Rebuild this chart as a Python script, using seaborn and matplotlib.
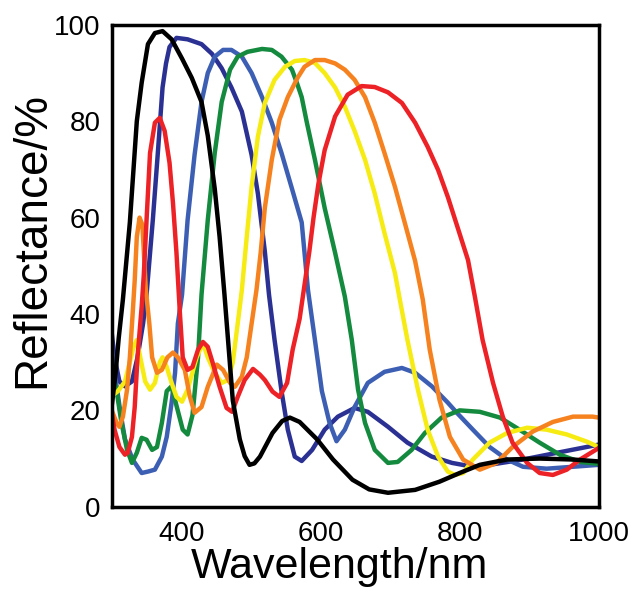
import numpy as np
import pandas as pd
import matplotlib
matplotlib.use('Agg')
import matplotlib.pyplot as plt
import seaborn as sns

# Reflectance spectra (wavelength in nm, reflectance in %)
black_wl = [300, 305, 310, 316, 326, 336, 343, 352, 362, 373, 386, 401, 415, 429, 438, 448, 455, 462,
            468, 474, 484, 491, 498, 505, 513, 531, 545, 556, 570, 595, 618, 646, 670, 697, 736, 771, 800,
            829, 868, 915, 963, 1000]
black_r = [21, 27, 35, 43, 59, 80, 88, 96, 98.3, 98.7, 97, 93, 89, 84, 77, 66, 56, 44,
           33, 22, 14, 10.5, 8.7, 9.0, 10.4, 15.3, 17.8, 18.5, 17.6, 14, 9.8, 5.6, 3.6, 2.9, 3.5, 5.2, 7,
           8.7, 9.8, 10, 9.8, 9.4]

navy_wl = [300, 304, 311, 319, 329, 337, 345, 350, 359, 366, 373, 378, 383, 393, 409, 429, 444, 458, 472,
           487, 501, 510, 520, 526, 534, 544, 553, 563, 573, 588, 606, 625, 649, 668, 697, 725, 760,
           789, 819, 843, 891, 940, 1000]
navy_r = [36, 31, 26, 25, 26, 31, 38, 44, 59.5, 73, 87, 92, 95.4, 97.3, 97, 96, 94, 91, 87,
          82, 73, 65, 53, 44, 34.6, 24, 16, 10.4, 9.5, 11.8, 16, 18.7, 20.5, 19.7, 16.6, 13.3, 10.4,
          9.1, 8.3, 8.7, 9.8, 11.2, 12.9]

blue_wl = [300, 306, 312, 319, 330, 343, 352, 362, 372, 379, 386, 391, 395, 401, 409, 419, 429, 438,
           448, 460, 472, 487, 501, 516, 530, 544, 559, 573, 582, 592, 602, 613, 623, 635, 649, 668,
           692, 717, 736, 760, 783, 796, 819, 843, 868, 891, 925, 963, 1000]
blue_r = [33, 26, 20, 14, 9.8, 7, 7.3, 7.7, 10.4, 14.5, 21.6, 27.8, 38, 44, 59.5, 73, 84, 90,
          93.4, 94.8, 94.8, 93.4, 90, 85, 79.7, 73.4, 66, 59, 45, 34.6, 24, 17.4, 13.6, 16, 20.7, 25.7,
          28, 28.8, 27.8, 25, 21.6, 19.5, 16, 12.4, 9.8, 8.3, 7.9, 8.3, 8.7]

green_wl = [300, 307, 314, 322, 329, 336, 343, 350, 358, 365, 372, 379, 386, 393, 402, 409, 416, 424,
            429, 438, 448, 458, 470, 481, 495, 516, 530, 544, 559, 566, 573, 580, 592, 606, 621, 635,
            645, 654, 664, 678, 697, 711, 731, 750, 774, 800, 829, 858, 886, 915, 944, 973, 1000]
green_r = [28, 24, 17.4, 11.8, 9.1, 11.2, 14.3, 13.9, 11.8, 12.4, 17.4, 24, 25, 21, 16, 15, 19, 31,
           44, 59.5, 73.4, 84, 90.7, 93.4, 94.4, 95, 94.8, 93.4, 90.7, 88, 85, 80, 72, 62, 52.7, 43.6,
           34.6, 24.3, 17.4, 11.8, 9.1, 9.3, 11.8, 15.3, 18.5, 20, 19.7, 18.5, 16, 13.3, 10.8, 9.3, 8.9]

yellow_wl = [300, 309, 319, 326, 331, 336, 341, 348, 355, 362, 369, 373, 379, 386, 393, 401, 409, 422,
             431, 438, 448, 458, 467, 474, 481, 487, 494, 501, 510, 520, 534, 549, 563, 577, 592, 606,
             621, 635, 649, 664, 678, 692, 707, 714, 725, 740, 754, 769, 783, 793, 805, 819, 843, 868,
             897, 925, 954, 983, 1000]
yellow_r = [23, 24, 26, 30, 33, 34.6, 31, 26, 24.3, 25.7, 30, 31, 29, 25.7, 22.8, 21.8, 24.3, 31,
            34, 31, 27.8, 25.7, 26.3, 30, 38, 45, 56, 66.4, 76.8, 83.8, 88.6, 91.3, 92.5, 92.7, 92.1, 90,
            87, 83, 78, 72, 65, 56.8, 48.5, 43, 34.6, 24.3, 16, 10.4, 7.3, 6.6, 7, 9.8, 13.3, 15.3,
            16.4, 16, 15, 13.5, 12.4]

orange_wl = [300, 307, 311, 316, 322, 326, 330, 333, 336, 340, 344, 349, 354, 358, 365, 372, 380, 388,
             395, 405, 412, 419, 429, 438, 451, 460, 470, 477, 487, 494, 501, 508, 514, 520, 530, 541,
             553, 567, 577, 592, 606, 621, 635, 649, 664, 678, 692, 707, 721, 736, 747, 757, 771, 786,
             805, 829, 853, 876, 905, 934, 963, 991, 1000]
orange_r = [20, 17.4, 16.6, 18.7, 24.3, 31, 40, 47, 56, 60, 58.5, 45, 38, 31, 27.8, 28.4, 31, 32,
            31, 28.4, 23, 19.5, 20.7, 24.9, 29.5, 28.4, 25.7, 24.9, 27, 31, 38, 45, 52.7, 62, 72, 80.3,
            85, 89, 91.3, 92.7, 92.7, 92, 90.7, 88.6, 85, 79.7, 73.4, 66.4, 59, 51, 43, 32.6, 22.2, 14.5,
            9.8, 7.7, 9.1, 12.4, 15.6, 17.6, 18.7, 18.7, 18.5]

red_wl = [300, 304, 311, 319, 323, 329, 333, 337, 343, 346, 350, 355, 362, 369, 376, 383, 388, 393,
          398, 402, 409, 416, 424, 431, 438, 445, 455, 465, 473, 481, 491, 503, 513, 520, 531, 541,
          552, 560, 570, 577, 584, 590, 597, 606, 621, 639, 659, 678, 697, 717, 736, 754, 769, 783,
          797, 812, 822, 833, 848, 862, 876, 897, 915, 934, 954, 973, 991, 1000]
red_r = [19.5, 16, 12.4, 10.8, 11.2, 14.5, 20.7, 31, 41.5, 48, 59.5, 73.4, 79.7, 80.7, 78, 71.4, 63, 52.7,
         40, 31, 28.4, 29, 32.6, 34.2, 33.2, 29.9, 24.9, 20.5, 19.7, 22.8, 26.3, 28.6, 27.4, 26.3, 23.9, 22.8,
         25.7, 32.6, 39, 46, 53, 60, 67, 74, 81, 85.5, 87.3, 87.1, 86, 83.8, 79.7, 74.7, 69.9, 64.3,
         58, 51.2, 43.5, 34.6, 25.7, 18.7, 13.3, 9.1, 7, 6.6, 7.7, 9.8, 11.4, 12.2]

series = [
    ('navy', navy_wl, navy_r, '#2b3192'),
    ('blue', blue_wl, blue_r, '#3d5fb3'),
    ('green', green_wl, green_r, '#148a3e'),
    ('yellow', yellow_wl, yellow_r, '#f6ec13'),
    ('orange', orange_wl, orange_r, '#f5821f'),
    ('red', red_wl, red_r, '#ec2227'),
    ('black', black_wl, black_r, '#000000'),
]

sns.set_style('white')
plt.rcParams['font.family'] = ['Liberation Sans', 'DejaVu Sans']

fig = plt.figure(figsize=(6.35, 5.92), dpi=100)
ax = fig.add_axes([0.176, 0.144, 0.767, 0.814])

for name, wl, r, col in series:
    df = pd.DataFrame({'Wavelength': wl, 'Reflectance': r})
    sns.lineplot(data=df, x='Wavelength', y='Reflectance', color=col, linewidth=3.2,
                 sort=False, estimator=None, ax=ax,
                 solid_joinstyle='round', solid_capstyle='round')

ax.set_xlim(300, 1000)
ax.set_ylim(0, 100)
ax.set_xticks([400, 600, 800, 1000])
ax.set_yticks([0, 20, 40, 60, 80, 100])
ax.tick_params(direction='in', length=8, width=2, labelsize=20, pad=8, colors='black')
ax.tick_params(axis='x', pad=10)
for s in ax.spines.values():
    s.set_linewidth(2.5)
    s.set_color('black')
ax.set_xlabel('Wavelength/nm', fontsize=31, labelpad=0, color='black')
ax.set_ylabel('Reflectance/%', fontsize=33, labelpad=0, color='black')
ax.xaxis.label.set_x(0.468)
ax.yaxis.label.set_y(0.554)

fig.savefig('out.png', dpi=100)
